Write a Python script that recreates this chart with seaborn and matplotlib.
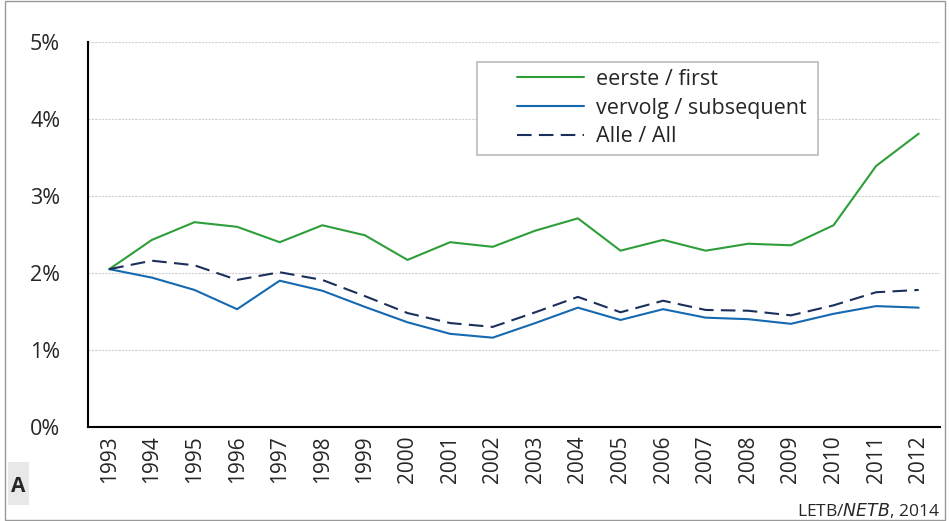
import pandas as pd
import matplotlib.pyplot as plt
import seaborn as sns
from matplotlib.patches import Rectangle

years = [str(y) for y in range(1993, 2013)]
eerste = [2.05, 2.43, 2.66, 2.60, 2.40, 2.62, 2.49, 2.17, 2.40, 2.34,
          2.55, 2.71, 2.29, 2.43, 2.29, 2.38, 2.36, 2.62, 3.39, 3.81]
vervolg = [2.05, 1.94, 1.78, 1.53, 1.90, 1.77, 1.56, 1.36, 1.21, 1.16,
           1.35, 1.55, 1.39, 1.53, 1.42, 1.40, 1.34, 1.47, 1.57, 1.55]
alle = [2.05, 2.16, 2.10, 1.91, 2.01, 1.91, 1.70, 1.48, 1.35, 1.30,
        1.49, 1.69, 1.49, 1.64, 1.52, 1.51, 1.45, 1.58, 1.75, 1.78]
series_names = ['eerste / first', 'vervolg / subsequent', 'Alle / All']
yticks = [0, 1, 2, 3, 4, 5]

def main():
    sns.set_style('white')
    plt.rcParams['font.family'] = ['Open Sans', 'DejaVu Sans']

    df = pd.DataFrame({'jaar': years * 3,
                       'pct': eerste + vervolg + alle,
                       'serie': [series_names[0]] * 20 + [series_names[1]] * 20 + [series_names[2]] * 20})
    df['x'] = list(range(20)) * 3

    fig = plt.figure(figsize=(9.49, 5.21), dpi=100)
    ax = fig.add_axes([88 / 949, 1 - 427 / 521, (940 - 88) / 949, (427 - 42) / 521])

    colors = {series_names[0]: '#2e9e3a', series_names[1]: '#1569b0', series_names[2]: '#1b2f5c'}
    sns.lineplot(data=df, x='x', y='pct', hue='serie', style='serie', palette=colors,
                 dashes={series_names[0]: '', series_names[1]: '', series_names[2]: (7, 3.5)},
                 linewidth=1.5, ax=ax, legend=True)

    ax.set_xlim(-0.5, 19.5)
    ax.set_ylim(0, 5)
    ax.set_yticks(yticks)
    ax.set_yticklabels([f'{t}%' for t in yticks], fontsize=15.5)
    ax.set_xticks(range(20))
    ax.set_xticklabels(years, rotation=90, fontsize=15)
    ax.set_xticks([i - 0.5 for i in range(21)], minor=True)
    ax.tick_params(axis='x', which='major', length=0, pad=6)
    ax.tick_params(axis='x', which='minor', length=6, width=1, color='#555555', direction='out')
    ax.tick_params(axis='y', length=0, pad=20)
    ax.set_xlabel('')
    ax.set_ylabel('')
    ax.yaxis.grid(True, color='#d0d0d0', linestyle=(0, (2, 1)), linewidth=0.8)
    for s in ['top', 'right']:
        ax.spines[s].set_visible(False)
    ax.spines['left'].set_color('black')
    ax.spines['left'].set_linewidth(1.5)
    ax.spines['bottom'].set_color('black')
    ax.spines['bottom'].set_linewidth(1.5)

    # legend: frameless, with its own box to leave the empty space on the left
    ax.legend(loc='center left', bbox_to_anchor=((517 - 88) / 852, (427 - 108) / 385),
              fontsize=15.5, frameon=False, handlelength=3.1,
              borderpad=0, labelspacing=0.35, handletextpad=0.55, borderaxespad=0)
    ax.add_patch(Rectangle(((477 - 88) / 852, (427 - 155) / 385), (818 - 477) / 852, 93 / 385,
                           transform=ax.transAxes, facecolor='white', edgecolor='#bbbbbb',
                           linewidth=1.2, zorder=4))
    ax.get_legend().set_zorder(5)

    # figure border and panel label
    fig.patches.append(Rectangle((5 / 949, 0.001), 0.99, 0.997, transform=fig.transFigure,
                                 fill=False, edgecolor='#999999', linewidth=1))
    fig.patches.append(Rectangle((8 / 949, 1 - 505 / 521), 21 / 949, 43 / 521,
                                 transform=fig.transFigure, facecolor='#e8e8e8', edgecolor='none'))
    fig.text(18 / 949, 1 - 486 / 521, 'A', fontsize=15, fontweight='bold', ha='center', va='center')
    fig.text(940 / 949, 1 - 510 / 521, 'LETB/$\\it{NETB}$, 2014', fontsize=12.5, ha='right', va='center')

    fig.savefig('out.png', dpi=100)

main()
